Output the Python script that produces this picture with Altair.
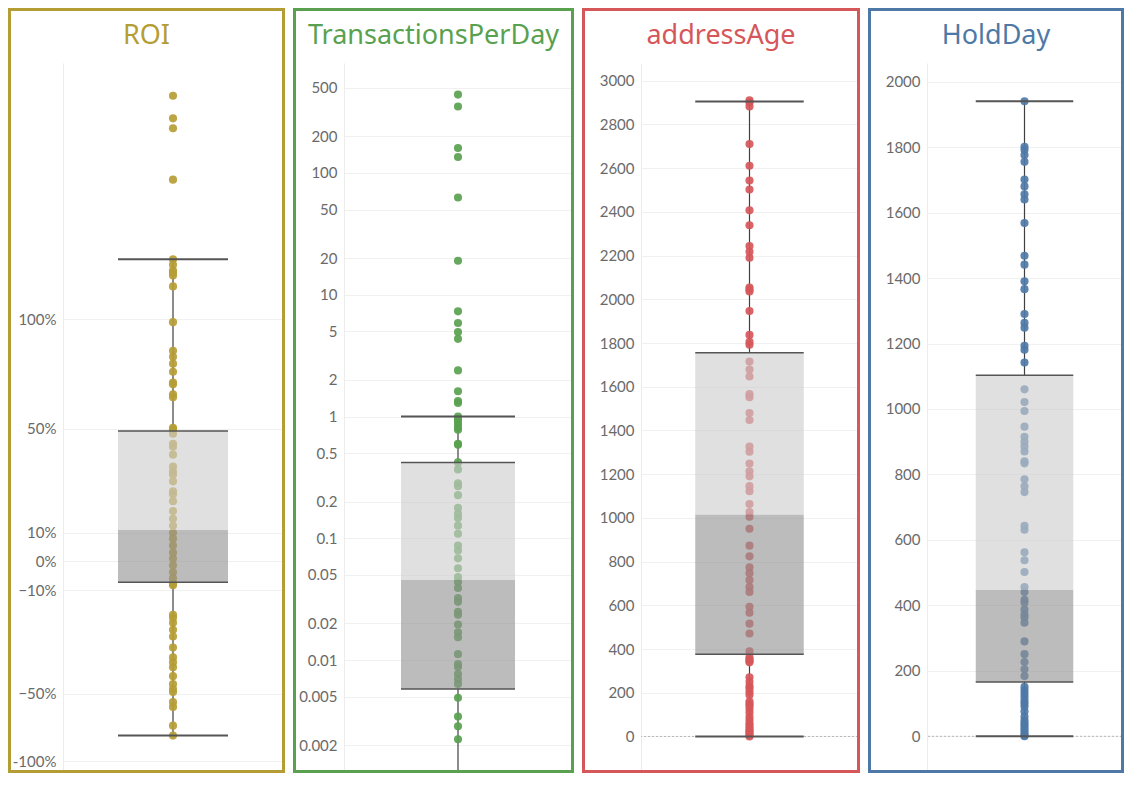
import altair as alt
import pandas as pd

titles = ["ROI", "TransactionsPerDay", "addressAge", "HoldDay"]
colors = ["#b59d35", "#59a14f", "#d6575a", "#4e79a7"]

roi_values = [2.32, 2.165, 2.099, 1.770, 1.31, 1.281, 1.25, 1.238, 1.223, 1.166,
              0.985, 0.847, 0.819, 0.787, 0.750, 0.701, 0.693, 0.649, 0.636,
              0.505, 0.498, 0.480, 0.439, 0.427, 0.395, 0.348, 0.328, 0.317, 0.290,
              0.252, 0.241, 0.215, 0.178, 0.150, 0.125, 0.0997, 0.0788, 0.0545,
              0.0305, 0.0101, -0.0134, -0.0374, -0.058, -0.0752, -0.0823,
              -0.189, -0.200, -0.219, -0.245, -0.271, -0.313, -0.352, -0.371,
              -0.391, -0.427, -0.459, -0.480, -0.492, -0.534, -0.555, -0.636, -0.680]
tpd_values = [439, 351, 160, 135, 62.8, 19.0, 7.3, 5.85, 4.94, 4.34, 2.39, 1.61,
              1.34, 1.29, 1.0, 0.955, 0.904, 0.854, 0.807, 0.778, 0.598, 0.585,
              0.42, 0.368, 0.283, 0.268, 0.226, 0.178, 0.159, 0.147, 0.127, 0.109,
              0.0873, 0.0795, 0.0685, 0.0568, 0.048, 0.0437, 0.0391, 0.0324,
              0.0301, 0.0249, 0.0236, 0.0196, 0.0169, 0.0154, 0.0112, 0.00927,
              0.00877, 0.00769, 0.0070, 0.00638, 0.00491, 0.00344, 0.00286, 0.00224]
age_values = [2910, 2900, 2882, 2710, 2611, 2543, 2502, 2407, 2339, 2244, 2217,
              2190, 2054, 2045, 2036, 1946, 1837, 1805, 1792, 1715, 1679, 1647,
              1566, 1552, 1480, 1448, 1326, 1303, 1249, 1213, 1190, 1145, 1122,
              1063, 1027, 1005, 950, 873, 824, 774, 747, 715, 683, 661, 593, 566,
              516, 471, 389, 362, 352, 345, 339, 271, 250, 231, 220, 204, 190, 160,
              149, 140, 127, 110, 90, 75, 60, 50, 40, 30, 23, 15, 8, 0]
hold_values = [1940, 1801, 1792, 1776, 1755, 1701, 1680, 1656, 1640, 1568, 1468,
               1441, 1390, 1366, 1290, 1263, 1248, 1193, 1181, 1142, 1060, 1021,
               994, 946, 915, 900, 885, 870, 840, 834, 785, 764, 746, 643, 631,
               562, 538, 502, 456, 441, 417, 408, 387, 372, 363, 347, 290, 251,
               227, 205, 184, 151, 140, 130, 120, 109, 100, 91, 76, 60, 48, 40,
               33, 25, 18, 10, 3, 0]

# box statistics: lower whisker, Q1, median, Q3, upper whisker
roi_stats = [-0.680, -0.072, 0.110, 0.492, 1.31]
tpd_stats = [0.0004, 0.0058, 0.0454, 0.42, 1.0]
age_stats = [0, 376, 1014, 1756, 2905]
hold_stats = [0, 166, 447, 1103, 1940]

# tick labels
roi_ticks = [-0.796, -0.5, -0.1, 0, 0.1, 0.5, 1.0]
tpd_ticks = [0.002, 0.005, 0.01, 0.02, 0.05, 0.1, 0.2, 0.5, 1, 2, 5, 10, 20,
             50, 100, 200, 500]
age_ticks = list(range(0, 3001, 200))
hold_ticks = list(range(0, 2001, 200))

H = 708
FONT = "Lato"


def panel(title, color, values, stats, scale, ticks, fmt, W, left,
          label_expr=None, zero=False):
    pts = pd.DataFrame({"v": values, "xc": 0.5})
    st = pd.DataFrame([{"lo": stats[0], "q1": stats[1], "med": stats[2],
                        "q3": stats[3], "hi": stats[4], "zero": 0,
                        "xl": 0.25, "xr": 0.75, "xc": 0.5, "t": title}])
    xs = alt.Scale(domain=[0, 1])
    axis_kw = dict(values=ticks, format=fmt, grid=True, ticks=False,
                   labelFont=FONT, labelFontSize=15, labelColor="#6a6a6a",
                   labelPadding=7, gridColor="#f0f0f0", domainColor="#ececec",
                   labelOverlap=False)
    if label_expr:
        axis_kw["labelExpr"] = label_expr
    ax = alt.Axis(**axis_kw)

    def Y(f):
        return alt.Y(f, type="quantitative", scale=scale, axis=ax, title=None)

    def X(f):
        return alt.X(f, type="quantitative", scale=xs, axis=None)

    base = alt.Chart(st)
    layers = []
    if zero:
        layers.append(base.mark_rule(color="#b5b5b5", strokeDash=[2, 2],
                                     strokeWidth=1).encode(y=Y("zero")))
    layers.append(base.mark_rule(color="#404040", strokeWidth=1.2, clip=True)
                  .encode(x=X("xc"), y=Y("lo"), y2="q1"))
    layers.append(base.mark_rule(color="#404040", strokeWidth=1.2, clip=True)
                  .encode(x=X("xc"), y=Y("q3"), y2="hi"))
    layers.append(alt.Chart(pts).mark_circle(size=66, color=color, opacity=0.92)
                  .encode(x=X("xc"), y=Y("v")))
    layers.append(base.mark_rect(color="#cccccc", opacity=0.61)
                  .encode(x=X("xl"), x2="xr", y=Y("med"), y2="q3"))
    layers.append(base.mark_rect(color="#919191", opacity=0.61)
                  .encode(x=X("xl"), x2="xr", y=Y("q1"), y2="med"))
    for f, w in [("q1", 1.5), ("q3", 1.5), ("lo", 2), ("hi", 2)]:
        layers.append(base.mark_rule(color="#555555", strokeWidth=w, clip=True)
                      .encode(x=X("xl"), x2="xr", y=Y(f)))
    # panel frame and title
    layers.append(base.mark_rect(fillOpacity=0, stroke=color, strokeWidth=3)
                  .encode(x=alt.value(-left), x2=alt.value(W + 0.5),
                          y=alt.value(-53.5), y2=alt.value(H + 0.5)))
    layers.append(base.mark_text(font="Noto Sans", fontSize=27, color=color,
                                 align="center", baseline="middle")
                  .encode(text="t:N", x=alt.value((W + 0.5 - left) / 2),
                          y=alt.value(-27)))
    return alt.layer(*layers).properties(width=W, height=H)


p1 = panel(titles[0], colors[0], roi_values, roi_stats,
           alt.Scale(type="symlog", constant=2.2, domain=[-0.842, 2.555], nice=False),
           roi_ticks, ".0%", 220, 53.5,
           label_expr="datum.value < -0.7 ? '-100%' : format(datum.value, '.0%')")
p2 = panel(titles[1], colors[1], tpd_values, tpd_stats,
           alt.Scale(type="log", domain=[0.00123, 798], nice=False),
           tpd_ticks, "~g", 228, 49.5)
p3 = panel(titles[2], colors[2], age_values, age_stats,
           alt.Scale(domain=[-158, 3081], nice=False, zero=False),
           age_ticks, "d", 217, 57.5, zero=True)
p4 = panel(titles[3], colors[3], hold_values, hold_stats,
           alt.Scale(domain=[-106, 2057], nice=False, zero=False),
           hold_ticks, "d", 195, 57.5, zero=True)

chart = alt.hconcat(p1, p2, p3, p4, spacing=8).properties(padding=0) \
    .configure_view(strokeWidth=0)

chart.save("out.html", embed_options={"renderer": "svg", "actions": False})
